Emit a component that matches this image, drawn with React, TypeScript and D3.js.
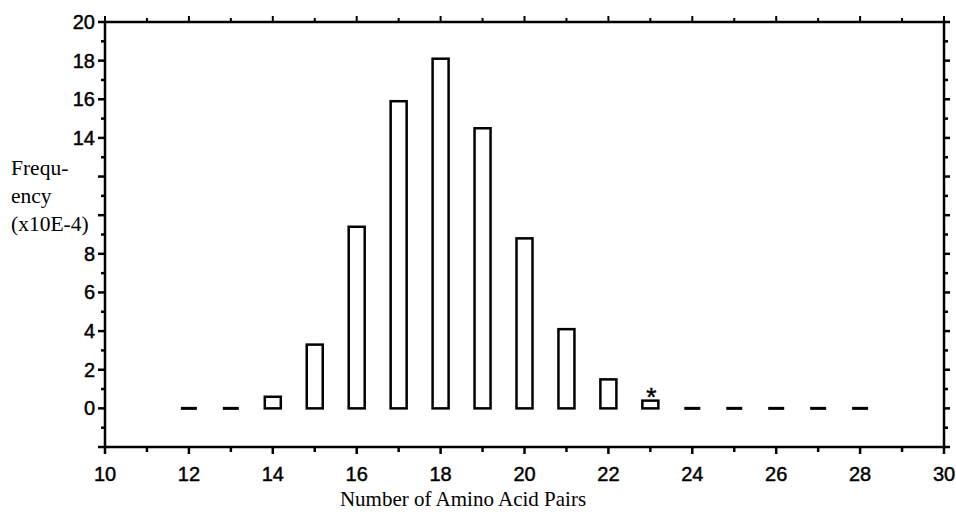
import { useEffect, useRef } from "react";
import * as d3 from "d3";

const pairs = [12, 13, 14, 15, 16, 17, 18, 19, 20, 21, 22, 23, 24, 25, 26, 27, 28];
const freq = [0, 0, 0.6, 3.3, 9.4, 15.9, 18.1, 14.5, 8.8, 4.1, 1.5, 0.4, 0, 0, 0, 0, 0];
const yTickLabels = [0, 2, 4, 6, 8, 14, 16, 18, 20];
const xTickLabels = [10, 12, 14, 16, 18, 20, 22, 24, 26, 28, 30];
const markedPair = 23;

export default function App() {
  const ref = useRef<SVGSVGElement>(null);

  useEffect(() => {
    const svg = d3.select(ref.current);
    svg.selectAll("*").remove();

    const x = d3.scaleLinear().domain([10, 30]).range([105, 944]);
    const y = d3.scaleLinear().domain([-2, 20]).range([447, 22]);
    const barW = 16;
    const sans = "'Liberation Sans', Arial, Helvetica, sans-serif";
    const serif = "'Liberation Serif', 'Times New Roman', serif";

    const g = svg.append("g");

    // frame
    g.append("rect")
      .attr("x", x(10))
      .attr("y", y(20))
      .attr("width", x(30) - x(10))
      .attr("height", y(-2) - y(20))
      .attr("fill", "none")
      .attr("stroke", "#000")
      .attr("stroke-width", 2.5);

    // x ticks, bottom (down) and top (up)
    const xt = d3.range(10, 31);
    g.selectAll("line.xb")
      .data(xt)
      .join("line")
      .attr("x1", (d) => x(d))
      .attr("x2", (d) => x(d))
      .attr("y1", y(-2))
      .attr("y2", (d) => y(-2) + (d % 2 === 0 ? 7 : 5))
      .attr("stroke", "#000")
      .attr("stroke-width", 2.5);
    g.selectAll("line.xt")
      .data(xt)
      .join("line")
      .attr("x1", (d) => x(d))
      .attr("x2", (d) => x(d))
      .attr("y1", y(20))
      .attr("y2", (d) => y(20) - (d % 2 === 0 ? 6 : 4))
      .attr("stroke", "#000")
      .attr("stroke-width", 2);

    // y ticks, left and right, both pointing outward
    const yt = d3.range(-2, 21);
    g.selectAll("line.yl")
      .data(yt)
      .join("line")
      .attr("x1", x(10))
      .attr("x2", (d) => x(10) - (d % 2 === 0 ? 7 : 4))
      .attr("y1", (d) => y(d))
      .attr("y2", (d) => y(d))
      .attr("stroke", "#000")
      .attr("stroke-width", 2.5);
    g.selectAll("line.yr")
      .data(yt)
      .join("line")
      .attr("x1", x(30))
      .attr("x2", (d) => x(30) + (d % 2 === 0 ? 6 : 4))
      .attr("y1", (d) => y(d))
      .attr("y2", (d) => y(d))
      .attr("stroke", "#000")
      .attr("stroke-width", 2.5);

    // tick labels
    g.selectAll("text.yl")
      .data(yTickLabels)
      .join("text")
      .attr("x", x(10) - 10)
      .attr("y", (d) => y(d) + 7)
      .attr("text-anchor", "end")
      .style("font-family", sans)
      .style("font-size", "20px")
      .style("stroke", "#000")
      .style("stroke-width", 0.45)
      .text((d) => d);
    g.selectAll("text.xl")
      .data(xTickLabels)
      .join("text")
      .attr("x", (d) => x(d))
      .attr("y", 481)
      .attr("text-anchor", "middle")
      .style("font-family", sans)
      .style("font-size", "20px")
      .style("stroke", "#000")
      .style("stroke-width", 0.45)
      .text((d) => d);

    // bars
    const data = pairs.map((p, i) => ({ p, v: freq[i] }));
    g.selectAll("rect.bar")
      .data(data.filter((d) => d.v > 0))
      .join("rect")
      .attr("x", (d) => x(d.p) - barW / 2)
      .attr("y", (d) => y(d.v))
      .attr("width", barW)
      .attr("height", (d) => y(0) - y(d.v))
      .attr("fill", "#fff")
      .attr("stroke", "#000")
      .attr("stroke-width", 2.5);
    g.selectAll("line.zero")
      .data(data.filter((d) => d.v === 0))
      .join("line")
      .attr("x1", (d) => x(d.p) - barW / 2)
      .attr("x2", (d) => x(d.p) + barW / 2)
      .attr("y1", y(0))
      .attr("y2", y(0))
      .attr("stroke", "#000")
      .attr("stroke-width", 3);

    // asterisk
    const mv = freq[pairs.indexOf(markedPair)];
    g.append("text")
      .attr("x", x(markedPair) + 1)
      .attr("y", y(mv) + 5)
      .attr("text-anchor", "middle")
      .style("font-family", sans)
      .style("font-size", "26px")
      .style("stroke", "#000")
      .style("stroke-width", 0.5)
      .text("*");

    // axis titles
    const ylab = g
      .append("text")
      .style("font-family", serif)
      .style("font-size", "21.5px");
    ["Frequ-", "ency", "(x10E-4)"].forEach((t, i) => {
      ylab.append("tspan").attr("x", 11).attr("y", 175 + i * 28).text(t);
    });
    g.append("text")
      .attr("x", 463)
      .attr("y", 506)
      .attr("text-anchor", "middle")
      .style("font-family", serif)
      .style("font-size", "21px")
      .text("Number of Amino Acid Pairs");
  }, []);

  return (
    <svg
      ref={ref}
      width={956}
      height={514}
      style={{ position: "absolute", left: 0, top: 0, background: "#fff" }}
    />
  );
}
